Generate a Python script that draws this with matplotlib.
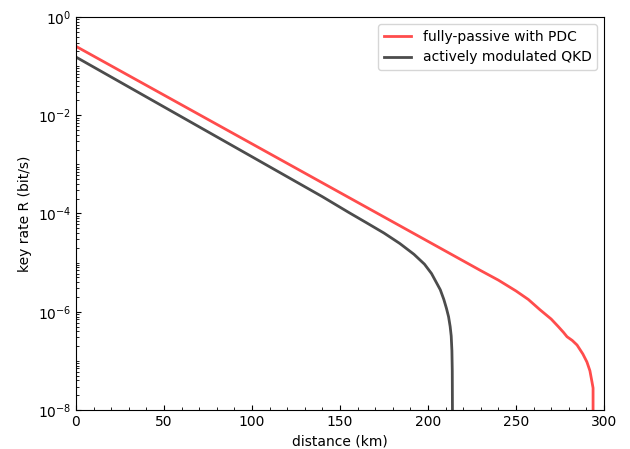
import numpy as np
import matplotlib
matplotlib.use("Agg")
import matplotlib.pyplot as plt
from matplotlib.ticker import LogLocator, MultipleLocator, FixedLocator, NullFormatter

# fully-passive with PDC
d_passive = [0, 100, 200, 230, 240, 250, 257, 263.6, 270, 274, 277, 279, 282, 284.7, 288, 290.3, 292, 293.2, 293.8, 293.8]
r_passive = [2.53e-1, 2.62e-3, 2.71e-5, 6.87e-6, 4.4e-6, 2.65e-6, 1.78e-6, 1.1e-6, 7.1e-7, 5.0e-7,
             3.8e-7, 3.1e-7, 2.6e-7, 2.1e-7, 1.38e-7, 9.5e-8, 6.3e-8, 3.7e-8, 2.8e-8, 1e-8]

# actively modulated QKD
d_active = [0, 100, 140, 155, 165, 175, 184, 192, 198, 202, 205, 207, 209, 210.5, 211.7, 212.6, 213.2, 213.6, 213.8, 213.9]
r_active = [1.53e-1, 1.43e-3, 2.2e-4, 1.05e-4, 6.5e-5, 4.0e-5, 2.45e-5, 1.48e-5, 9.3e-6, 6.0e-6,
            3.8e-6, 2.8e-6, 1.78e-6, 1.17e-6, 7.9e-7, 5.0e-7, 3.2e-7, 1.6e-7, 6.3e-8, 1e-8]

fig = plt.figure(figsize=(6.3, 4.49), dpi=100)
ax = fig.add_axes([0.1206, 0.0869, 0.8381, 0.8752])

ax.semilogy(d_passive, r_passive, color='red', alpha=0.7, lw=2, label='fully-passive with PDC')
ax.semilogy(d_active, r_active, color='black', alpha=0.7, lw=2, label='actively modulated QKD')

ax.set_xlim(0, 300)
ax.set_ylim(1e-8, 1e0)
ax.yaxis.set_major_locator(FixedLocator([1e-8, 1e-6, 1e-4, 1e-2, 1e0]))
ax.yaxis.set_minor_locator(LogLocator(base=10, subs=np.arange(1, 10), numticks=20))
ax.yaxis.set_minor_formatter(NullFormatter())
ax.xaxis.set_minor_locator(MultipleLocator(10))
ax.tick_params(which='both', direction='in')

ax.set_xlabel('distance (km)', labelpad=4)
ax.set_ylabel('key rate R (bit/s)')
ax.legend(loc='upper right')

fig.savefig('out.png', dpi=100)
